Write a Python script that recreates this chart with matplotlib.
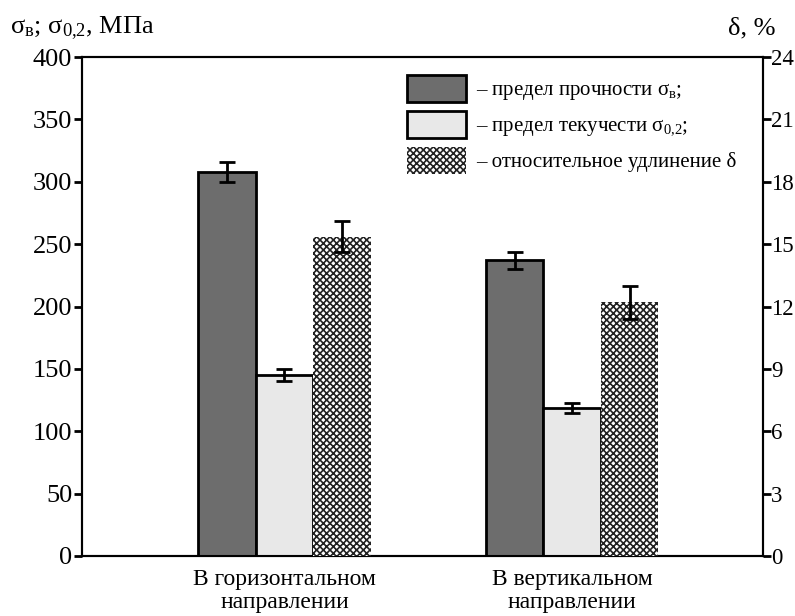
import matplotlib
matplotlib.use("Agg")
import matplotlib.pyplot as plt
import numpy as np

plt.rcParams['font.family'] = ['Liberation Serif', 'DejaVu Serif']
plt.rcParams['mathtext.fontset'] = 'custom'
plt.rcParams['mathtext.rm'] = 'Liberation Serif'
plt.rcParams['mathtext.it'] = 'Liberation Serif'
plt.rcParams['mathtext.default'] = 'rm'
plt.rcParams['hatch.linewidth'] = 1.2

categories = ["В горизонтальном\nнаправлении", "В вертикальном\nнаправлении"]
sigma_b = [308, 237]
sigma_b_err = [8, 7]
sigma_02 = [145, 118.5]
sigma_02_err = [5, 4]
delta = [15.35, 12.2]
delta_err = [0.75, 0.8]
left_ticks = [0, 50, 100, 150, 200, 250, 300, 350, 400]
right_ticks = [0, 3, 6, 9, 12, 15, 18, 21, 24]
legend_labels = ["– предел прочности $σ_{в}$;",
                 "– предел текучести $σ_{0{,}2}$;",
                 "– относительное удлинение δ"]

W, H = 795, 616
fig = plt.figure(figsize=(W/100, H/100), dpi=100)
ax = fig.add_axes([82/W, 1-556/H, (763-82)/W, (556-57)/H])
ax2 = ax.twinx()

x = np.arange(len(categories))
bw = 0.2
ekw = dict(elinewidth=2, capthick=2, capsize=6, ecolor='black')
b1 = ax.bar(x - bw, sigma_b, bw, color='#6d6d6d', edgecolor='black', linewidth=2,
            yerr=sigma_b_err, error_kw=ekw, zorder=3)
b2 = ax.bar(x, sigma_02, bw, color='#e8e8e8', edgecolor='black', linewidth=2,
            yerr=sigma_02_err, error_kw=ekw, zorder=3)
b3 = ax2.bar(x + bw, delta, bw, color='white', edgecolor='#222222', linewidth=0,
             hatch='xxxxx', yerr=delta_err, error_kw=ekw, zorder=3)

ax.set_xlim(-0.704, 1.664)
ax.set_ylim(0, 400)
ax2.set_ylim(0, 24)
ax.set_yticks(left_ticks)
ax2.set_yticks(right_ticks)
ax.set_xticks(x)
ax.set_xticklabels(categories, fontsize=17, linespacing=1.15)
ax.tick_params(axis='x', length=0, pad=9)
ax.tick_params(axis='y', labelsize=19, direction='out', length=6, width=2, pad=1)
ax2.tick_params(axis='y', labelsize=16.5, direction='out', length=6, width=2, pad=0)
for a in (ax, ax2):
    for s in a.spines.values():
        s.set_linewidth(1.5)

fig.text(10/W, 1-28/H, "$σ_{в}$; $σ_{0{,}2}$, МПа", fontsize=19, va='center', ha='left')
fig.text(776/W, 1-28/H, "δ, %", fontsize=19, va='center', ha='right')

leg = ax.legend([b1, b2, b3], legend_labels, loc='upper left',
                bbox_to_anchor=(407/W, 1-75/H), bbox_transform=fig.transFigure,
                frameon=False, fontsize=15, handlelength=2.85, handleheight=1.6,
                labelspacing=0.42, handletextpad=0.45, borderpad=0, borderaxespad=0)
leg.set_zorder(10)

fig.savefig("out.png", dpi=100)
